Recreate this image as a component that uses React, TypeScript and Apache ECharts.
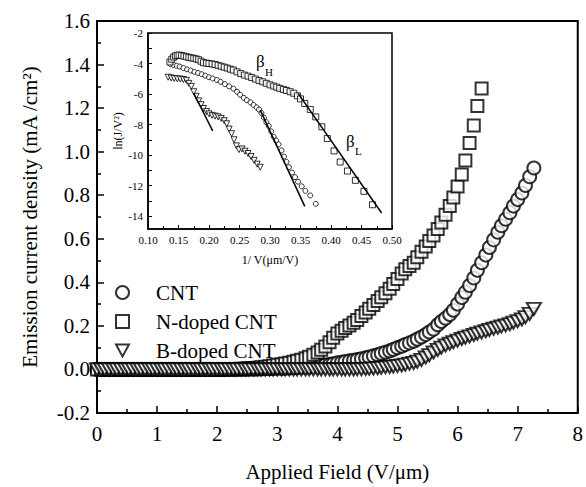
import React, { useEffect, useRef } from "react";
import * as echarts from "echarts";

const FONT = "Liberation Serif, Times New Roman, serif";

// Applied field sweep (V/µm)
const field = [
  0, 0.07, 0.13, 0.2, 0.27, 0.33, 0.4, 0.47, 0.53, 0.6, 0.67, 0.73, 0.8, 0.87, 0.93, 1,
  1.07, 1.13, 1.2, 1.27, 1.33, 1.4, 1.47, 1.53, 1.6, 1.67, 1.73, 1.8, 1.87, 1.93, 2,
  2.07, 2.13, 2.2, 2.27, 2.33, 2.4, 2.47, 2.53, 2.6, 2.67, 2.73, 2.8, 2.87, 2.93, 3,
  3.07, 3.13, 3.2, 3.27, 3.33, 3.4, 3.47, 3.53, 3.6, 3.67, 3.73, 3.8, 3.87, 3.93, 4,
  4.07, 4.13, 4.2, 4.27, 4.33, 4.4, 4.47, 4.53, 4.6, 4.67, 4.73, 4.8, 4.87, 4.93, 5,
  5.07, 5.13, 5.2, 5.27, 5.33, 5.4, 5.47, 5.53, 5.6, 5.67, 5.73, 5.8, 5.87, 5.93, 6,
  6.07, 6.13, 6.2, 6.27, 6.33, 6.4, 6.47, 6.53, 6.6, 6.67, 6.73, 6.8, 6.87, 6.93, 7,
  7.07, 7.13, 7.2, 7.27,
];

// Emission current density (mA/cm²)
const cntJ = [
  0, 0, 0, 0, 0, 0, 0, 0, 0, 0, 0, 0, 0, 0, 0, 0,
  0, 0, 0, 0, 0, 0, 0, 0, 0, 0, 0, 0, 0, 0, 0,
  0, 0, 0, 0, 0, 0, 0, 0.001, 0.001, 0.002, 0.002, 0.003, 0.003, 0.004, 0.005,
  0.005, 0.006, 0.007, 0.008, 0.009, 0.01, 0.011, 0.012, 0.014, 0.016, 0.018, 0.02, 0.023, 0.026, 0.03,
  0.033, 0.036, 0.039, 0.042, 0.045, 0.049, 0.053, 0.057, 0.062, 0.067, 0.073, 0.079, 0.085, 0.092, 0.1,
  0.107, 0.114, 0.122, 0.13, 0.139, 0.149, 0.16, 0.172, 0.185, 0.205, 0.22, 0.235, 0.252, 0.272, 0.3,
  0.33, 0.355, 0.385, 0.42, 0.455, 0.49, 0.525, 0.56, 0.595, 0.63, 0.66, 0.69, 0.72, 0.75, 0.78,
  0.81, 0.845, 0.885, 0.925,
];

const nDopedJ = [
  0, 0, 0, 0, 0, 0, 0, 0, 0, 0, 0, 0, 0, 0, 0, 0,
  0, 0, 0, 0, 0, 0, 0, 0, 0, 0, 0, 0, 0, 0, 0,
  0, 0, 0.001, 0.001, 0.002, 0.003, 0.004, 0.005, 0.006, 0.008, 0.01, 0.012, 0.015, 0.018, 0.021,
  0.024, 0.027, 0.031, 0.035, 0.04, 0.045, 0.051, 0.058, 0.067, 0.078, 0.09, 0.105, 0.125, 0.145, 0.165,
  0.178, 0.19, 0.202, 0.214, 0.227, 0.245, 0.262, 0.279, 0.296, 0.314, 0.332, 0.35, 0.37, 0.392, 0.415,
  0.44, 0.46, 0.475, 0.49, 0.515, 0.54, 0.565, 0.59, 0.615, 0.645, 0.675, 0.71, 0.75, 0.79, 0.84,
  0.895, 0.96, 1.04, 1.12, 1.21, 1.29,
];

const bDopedJ = [
  0, 0, 0, 0, 0, 0, 0, 0, 0, 0, 0, 0, 0, 0, 0, 0,
  0, 0, 0, 0, 0, 0, 0, 0, 0, 0, 0, 0, 0, 0, 0,
  0, 0, 0, 0, 0, 0, 0, 0, 0, 0, 0, 0, 0, 0, 0,
  0, 0, 0, 0, 0, 0, 0, 0, 0, 0, 0, 0, 0, 0, 0,
  0, 0, 0, 0, 0.001, 0.001, 0.002, 0.003, 0.005, 0.006, 0.008, 0.01, 0.012, 0.014, 0.016,
  0.019, 0.022, 0.026, 0.03, 0.036, 0.044, 0.055, 0.066, 0.078, 0.09, 0.1, 0.11, 0.118, 0.125, 0.132,
  0.14, 0.146, 0.152, 0.158, 0.164, 0.17, 0.176, 0.182, 0.187, 0.192, 0.197, 0.202, 0.208, 0.215, 0.222,
  0.23, 0.24, 0.255, 0.278,
];

// Inset: F-N plot, 1/V (µm/V) vs ln(J/V²)
const insetCntInv = [
  0.137, 0.142, 0.147, 0.152, 0.158, 0.164, 0.17, 0.176, 0.182, 0.188, 0.194, 0.2, 0.206, 0.213, 0.219,
  0.226, 0.233, 0.24, 0.246, 0.251, 0.257, 0.262, 0.268, 0.273, 0.278, 0.282, 0.286, 0.29, 0.294, 0.298,
  0.302, 0.306, 0.31, 0.314, 0.319, 0.323, 0.327, 0.331, 0.336, 0.341, 0.346, 0.352, 0.358, 0.366, 0.375,
];
const insetCntLn = [
  -4.05, -4.1, -4.15, -4.2, -4.3, -4.38, -4.46, -4.55, -4.62, -4.7, -4.8, -4.9, -4.98, -5.08, -5.2,
  -5.35, -5.5, -5.65, -5.85, -6.05, -6.25, -6.4, -6.55, -6.72, -6.88, -7.02, -7.25, -7.55, -7.85, -8.1,
  -8.45, -8.8, -9.05, -9.3, -9.7, -10.1, -10.45, -10.8, -11.15, -11.45, -11.75, -12.05, -12.35, -12.65, -13.2,
];

const insetNInv = [
  0.136, 0.139, 0.142, 0.145, 0.148, 0.151, 0.155, 0.159, 0.163, 0.167, 0.171, 0.175, 0.179, 0.183, 0.187,
  0.191, 0.196, 0.2, 0.205, 0.21, 0.215, 0.22, 0.225, 0.23, 0.235, 0.24, 0.246, 0.252, 0.258, 0.264,
  0.27, 0.276, 0.282, 0.288, 0.294, 0.3, 0.306, 0.311, 0.316, 0.322, 0.327, 0.333, 0.339, 0.345, 0.35,
  0.357, 0.366, 0.375, 0.385, 0.394, 0.405, 0.415, 0.427, 0.44, 0.454, 0.468,
];
const insetNLn = [
  -3.9, -3.72, -3.58, -3.5, -3.46, -3.45, -3.48, -3.52, -3.56, -3.6, -3.63, -3.66, -3.7, -3.75, -3.85,
  -3.95, -3.98, -4.0, -4.03, -4.07, -4.12, -4.18, -4.24, -4.3, -4.37, -4.43, -4.55, -4.66, -4.76, -4.83,
  -4.92, -5.02, -5.12, -5.2, -5.3, -5.4, -5.48, -5.55, -5.63, -5.7, -5.77, -5.85, -5.95, -6.12, -6.32,
  -6.62, -7.01, -7.5, -8.15, -8.92, -9.73, -10.46, -11.05, -11.66, -12.38, -13.26,
];

const insetBInv = [
  0.133, 0.138, 0.143, 0.148, 0.153, 0.158, 0.163, 0.167, 0.171, 0.175, 0.179, 0.183, 0.187, 0.191, 0.196,
  0.2, 0.205, 0.21, 0.215, 0.22, 0.225, 0.229, 0.233, 0.237, 0.241, 0.245, 0.249, 0.254, 0.259, 0.264,
  0.269, 0.274, 0.279, 0.284,
];
const insetBLn = [
  -4.9, -4.95, -4.98, -5.0, -5.02, -5.05, -5.1, -5.3, -5.5, -5.85, -6.15, -6.45, -6.7, -6.95, -7.15,
  -7.3, -7.4, -7.45, -7.5, -7.6, -7.75, -7.95, -8.3, -8.6, -9.0, -9.4, -9.65, -9.6, -9.75, -9.9,
  -10.1, -10.35, -10.6, -10.8,
];

// Linear F-N fits (endpoints)
const fitCnt = [[0.284, -7.06], [0.357, -13.37]];
const fitN = [[0.346, -5.96], [0.483, -13.8]];
const fitB = [[0.175, -5.95], [0.206, -8.42]];

const mainXTicks = { min: 0, max: 8, interval: 1 };
const mainYTicks = { min: -0.2, max: 1.6, interval: 0.2 };
const insetXTicks = { min: 0.1, max: 0.5, interval: 0.05 };
const insetYTickValues = [-14, -13, -12, -11, -10, -9, -8, -7, -6, -5, -4, -3, -2];
const insetYLabelValues = [-14, -12, -10, -8, -6, -4, -2];

const legendNames = ["CNT", "N-doped CNT", "B-doped CNT"];

const TRI_DOWN = "path://M0,0 L12,0 L6,11 Z";

const zip = (xs: number[], ys: number[]) => ys.map((y, i) => [xs[i], y]);

export default function App() {
  const ref = useRef<HTMLDivElement>(null);

  useEffect(() => {
    if (!ref.current) return;
    const chart = echarts.init(ref.current, undefined, { renderer: "svg" });

    const black = "#000";
    const mainItem = { color: "#fff", borderColor: black, borderWidth: 2 };
    const insetItem = { color: "#fff", borderColor: black, borderWidth: 1 };
    const axisLine = { show: true, onZero: false, lineStyle: { color: black, width: 2 } };
    const insetAxisLine = { show: true, onZero: false, lineStyle: { color: black, width: 1.5 } };

    const option: any = {
      animation: false,
      backgroundColor: "#fff",
      textStyle: { fontFamily: FONT, color: black },
      grid: [
        { left: 97, top: 21, width: 487, height: 394, show: true, borderColor: black, borderWidth: 2, backgroundColor: "transparent" },
        { left: 148, top: 33, width: 244, height: 196, show: true, borderColor: black, borderWidth: 1.5, backgroundColor: "transparent" },
      ],
      xAxis: [
        {
          gridIndex: 0,
          type: "value",
          ...mainXTicks,
          axisLine,
          axisTick: { inside: true, length: 7, lineStyle: { color: black, width: 1.5 } },
          minorTick: { show: true, splitNumber: 2, length: 4, lineStyle: { color: black, width: 1.5 } },
          splitLine: { show: false },
          axisLabel: { color: black, fontFamily: FONT, fontSize: 21, margin: 10 },
          name: "Applied Field (V/μm)",
          nameLocation: "middle",
          nameGap: 48,
          nameTextStyle: { color: black, fontFamily: FONT, fontSize: 21 },
        },
        {
          gridIndex: 1,
          type: "value",
          ...insetXTicks,
          axisLine: insetAxisLine,
          axisTick: { inside: true, length: 4, lineStyle: { color: black, width: 1 } },
          minorTick: { show: true, splitNumber: 2, length: 3, lineStyle: { color: black, width: 1 } },
          splitLine: { show: false },
          axisLabel: { color: black, fontFamily: FONT, fontSize: 11, margin: 5, formatter: (v: number) => v.toFixed(2) },
          name: "1/ V(μm/V)",
          nameLocation: "middle",
          nameGap: 25,
          nameTextStyle: { color: black, fontFamily: FONT, fontSize: 12 },
        },
      ],
      yAxis: [
        {
          gridIndex: 0,
          type: "value",
          ...mainYTicks,
          axisLine,
          axisTick: { inside: true, length: 7, lineStyle: { color: black, width: 1.5 } },
          minorTick: { show: true, splitNumber: 2, length: 4, lineStyle: { color: black, width: 1.5 } },
          splitLine: { show: false },
          axisLabel: {
            color: black,
            fontFamily: FONT,
            fontSize: 21,
            margin: 7,
            formatter: (v: number) => (Math.abs(v) < 1e-9 ? "0.0" : v.toFixed(1)),
          },
          name: "Emission current density (mA /cm²)",
          nameLocation: "middle",
          nameGap: 57,
          nameTextStyle: { color: black, fontFamily: FONT, fontSize: 21 },
        },
        {
          gridIndex: 1,
          type: "value",
          min: -14.85,
          max: -2,
          axisLine: insetAxisLine,
          axisTick: { inside: true, length: 4, customValues: insetYTickValues, lineStyle: { color: black, width: 1 } },
          splitLine: { show: false },
          axisLabel: { color: black, fontFamily: FONT, fontSize: 11, margin: 5, customValues: insetYLabelValues },
          name: "ln(J/V²)",
          nameLocation: "middle",
          nameGap: 24,
          nameTextStyle: { color: black, fontFamily: FONT, fontSize: 12 },
        },
      ],
      legend: {
        data: legendNames,
        orient: "vertical",
        left: 110,
        top: 277,
        itemWidth: 13,
        itemHeight: 13,
        itemGap: 8,
        selectedMode: false,
        formatter: (name: string) => `{t|${name}}`,
        textStyle: {
          color: black,
          fontFamily: FONT,
          fontSize: 21,
          rich: { t: { fontFamily: FONT, fontSize: 21, color: black, lineHeight: 20, padding: [0, 0, 0, 22] } },
        },
      },
      graphic: [
        { type: "text", left: 256, top: 53, style: { text: "β", fontFamily: FONT, fontSize: 17, fill: black } },
        { type: "text", left: 265, top: 66, style: { text: "H", fontFamily: FONT, fontSize: 11, fill: black } },
        { type: "text", left: 346, top: 133, style: { text: "β", fontFamily: FONT, fontSize: 17, fill: black } },
        { type: "text", left: 355, top: 145, style: { text: "L", fontFamily: FONT, fontSize: 11, fill: black } },
      ],
      series: [
        {
          name: legendNames[0], type: "scatter", xAxisIndex: 0, yAxisIndex: 0, symbol: "circle", symbolSize: 13,
          itemStyle: mainItem, silent: true, data: zip(field, cntJ),
        },
        {
          name: legendNames[1], type: "scatter", xAxisIndex: 0, yAxisIndex: 0, symbol: "rect", symbolSize: 12,
          itemStyle: mainItem, silent: true, data: zip(field, nDopedJ),
        },
        {
          name: legendNames[2], type: "scatter", xAxisIndex: 0, yAxisIndex: 0, symbol: TRI_DOWN, symbolSize: [14, 12],
          itemStyle: mainItem, silent: true, data: zip(field, bDopedJ),
        },
        {
          name: "CNT F-N", type: "scatter", xAxisIndex: 1, yAxisIndex: 1, symbol: "circle", symbolSize: 5,
          itemStyle: insetItem, silent: true, data: zip(insetCntInv, insetCntLn),
        },
        {
          name: "N-doped F-N", type: "scatter", xAxisIndex: 1, yAxisIndex: 1, symbol: "rect", symbolSize: 6,
          itemStyle: insetItem, silent: true, data: zip(insetNInv, insetNLn),
        },
        {
          name: "B-doped F-N", type: "scatter", xAxisIndex: 1, yAxisIndex: 1, symbol: TRI_DOWN, symbolSize: [6, 6],
          itemStyle: insetItem, silent: true, data: zip(insetBInv, insetBLn),
        },
        { name: "fit CNT", type: "line", xAxisIndex: 1, yAxisIndex: 1, symbol: "none", silent: true, lineStyle: { color: black, width: 1.5 }, data: fitCnt },
        { name: "fit N", type: "line", xAxisIndex: 1, yAxisIndex: 1, symbol: "none", silent: true, lineStyle: { color: black, width: 1.5 }, data: fitN },
        { name: "fit B", type: "line", xAxisIndex: 1, yAxisIndex: 1, symbol: "none", silent: true, lineStyle: { color: black, width: 1.5 }, data: fitB },
      ],
    };

    chart.setOption(option);
    return () => chart.dispose();
  }, []);

  return (
    <div
      ref={ref}
      style={{ position: "fixed", left: 0, top: 0, width: 586, height: 487, background: "#fff" }}
    />
  );
}
